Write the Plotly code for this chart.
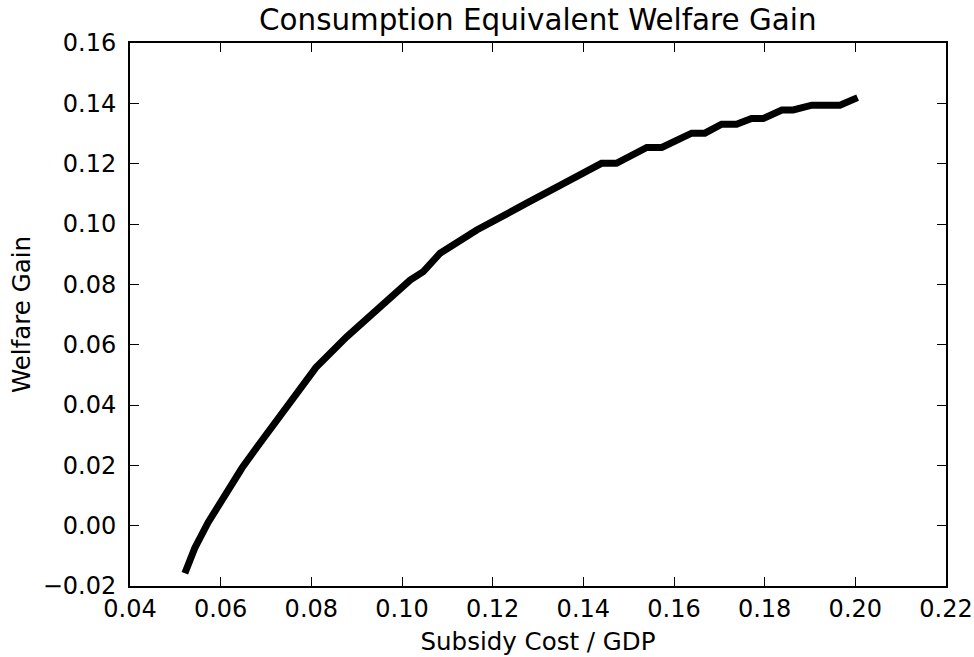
import plotly.graph_objects as go

subsidy_cost = [0.0521, 0.0543, 0.0572, 0.0610, 0.0647, 0.0682, 0.0720, 0.0766, 0.0810,
                0.0878, 0.0951, 0.1018, 0.1047, 0.1084, 0.1165, 0.1238, 0.1275, 0.1385,
                0.1440, 0.1473, 0.1540, 0.1573, 0.1639, 0.1668, 0.1705, 0.1738, 0.1771,
                0.1797, 0.1838, 0.1863, 0.1904, 0.1966, 0.2005]
welfare_gain = [-0.0158, -0.0074, 0.0010, 0.0105, 0.0191, 0.0264, 0.0340, 0.0436, 0.0524,
                0.0626, 0.0726, 0.0814, 0.0842, 0.0903, 0.0980, 0.1035, 0.1069, 0.1157,
                0.1201, 0.1201, 0.1254, 0.1254, 0.1301, 0.1301, 0.1331, 0.1331, 0.1350,
                0.1350, 0.1378, 0.1378, 0.1394, 0.1394, 0.1419]

title = "Consumption Equivalent Welfare Gain"
x_label = "Subsidy Cost / GDP"
y_label = "Welfare Gain"

FONT = "DejaVu Sans"

fig = go.Figure()
fig.add_trace(go.Scatter(x=subsidy_cost, y=welfare_gain, mode="lines",
                         line=dict(color="black", width=7), showlegend=False))

axis_common = dict(showgrid=False, zeroline=False, showline=True, linecolor="black",
                   linewidth=2, mirror="ticks", ticks="inside", ticklen=9, tickwidth=1.3,
                   tickcolor="black", tickformat=".2f", automargin=False,
                   tickfont=dict(family=FONT, size=24, color="black"))

fig.update_layout(
    width=974, height=657, autosize=False,
    margin=dict(l=130, r=28, t=43, b=71, autoexpand=False),
    paper_bgcolor="white", plot_bgcolor="white",
    font=dict(family=FONT, color="black"),
    xaxis=dict(range=[0.04, 0.22], dtick=0.02, tick0=0.04,
               title=dict(text=x_label, font=dict(family=FONT, size=24.5), standoff=11),
               ticklabelstandoff=0, **axis_common),
    yaxis=dict(range=[-0.02, 0.16], dtick=0.02, tick0=-0.02,
               title=dict(text=y_label, font=dict(family=FONT, size=24.5), standoff=5),
               ticklabelstandoff=7, **axis_common),
    annotations=[dict(text=title, xref="paper", yref="paper", x=0.5, y=1,
                      xanchor="center", yanchor="bottom", yshift=4, showarrow=False,
                      font=dict(family=FONT, size=29.4, color="black"))],
)

fig.write_html("out.html")
